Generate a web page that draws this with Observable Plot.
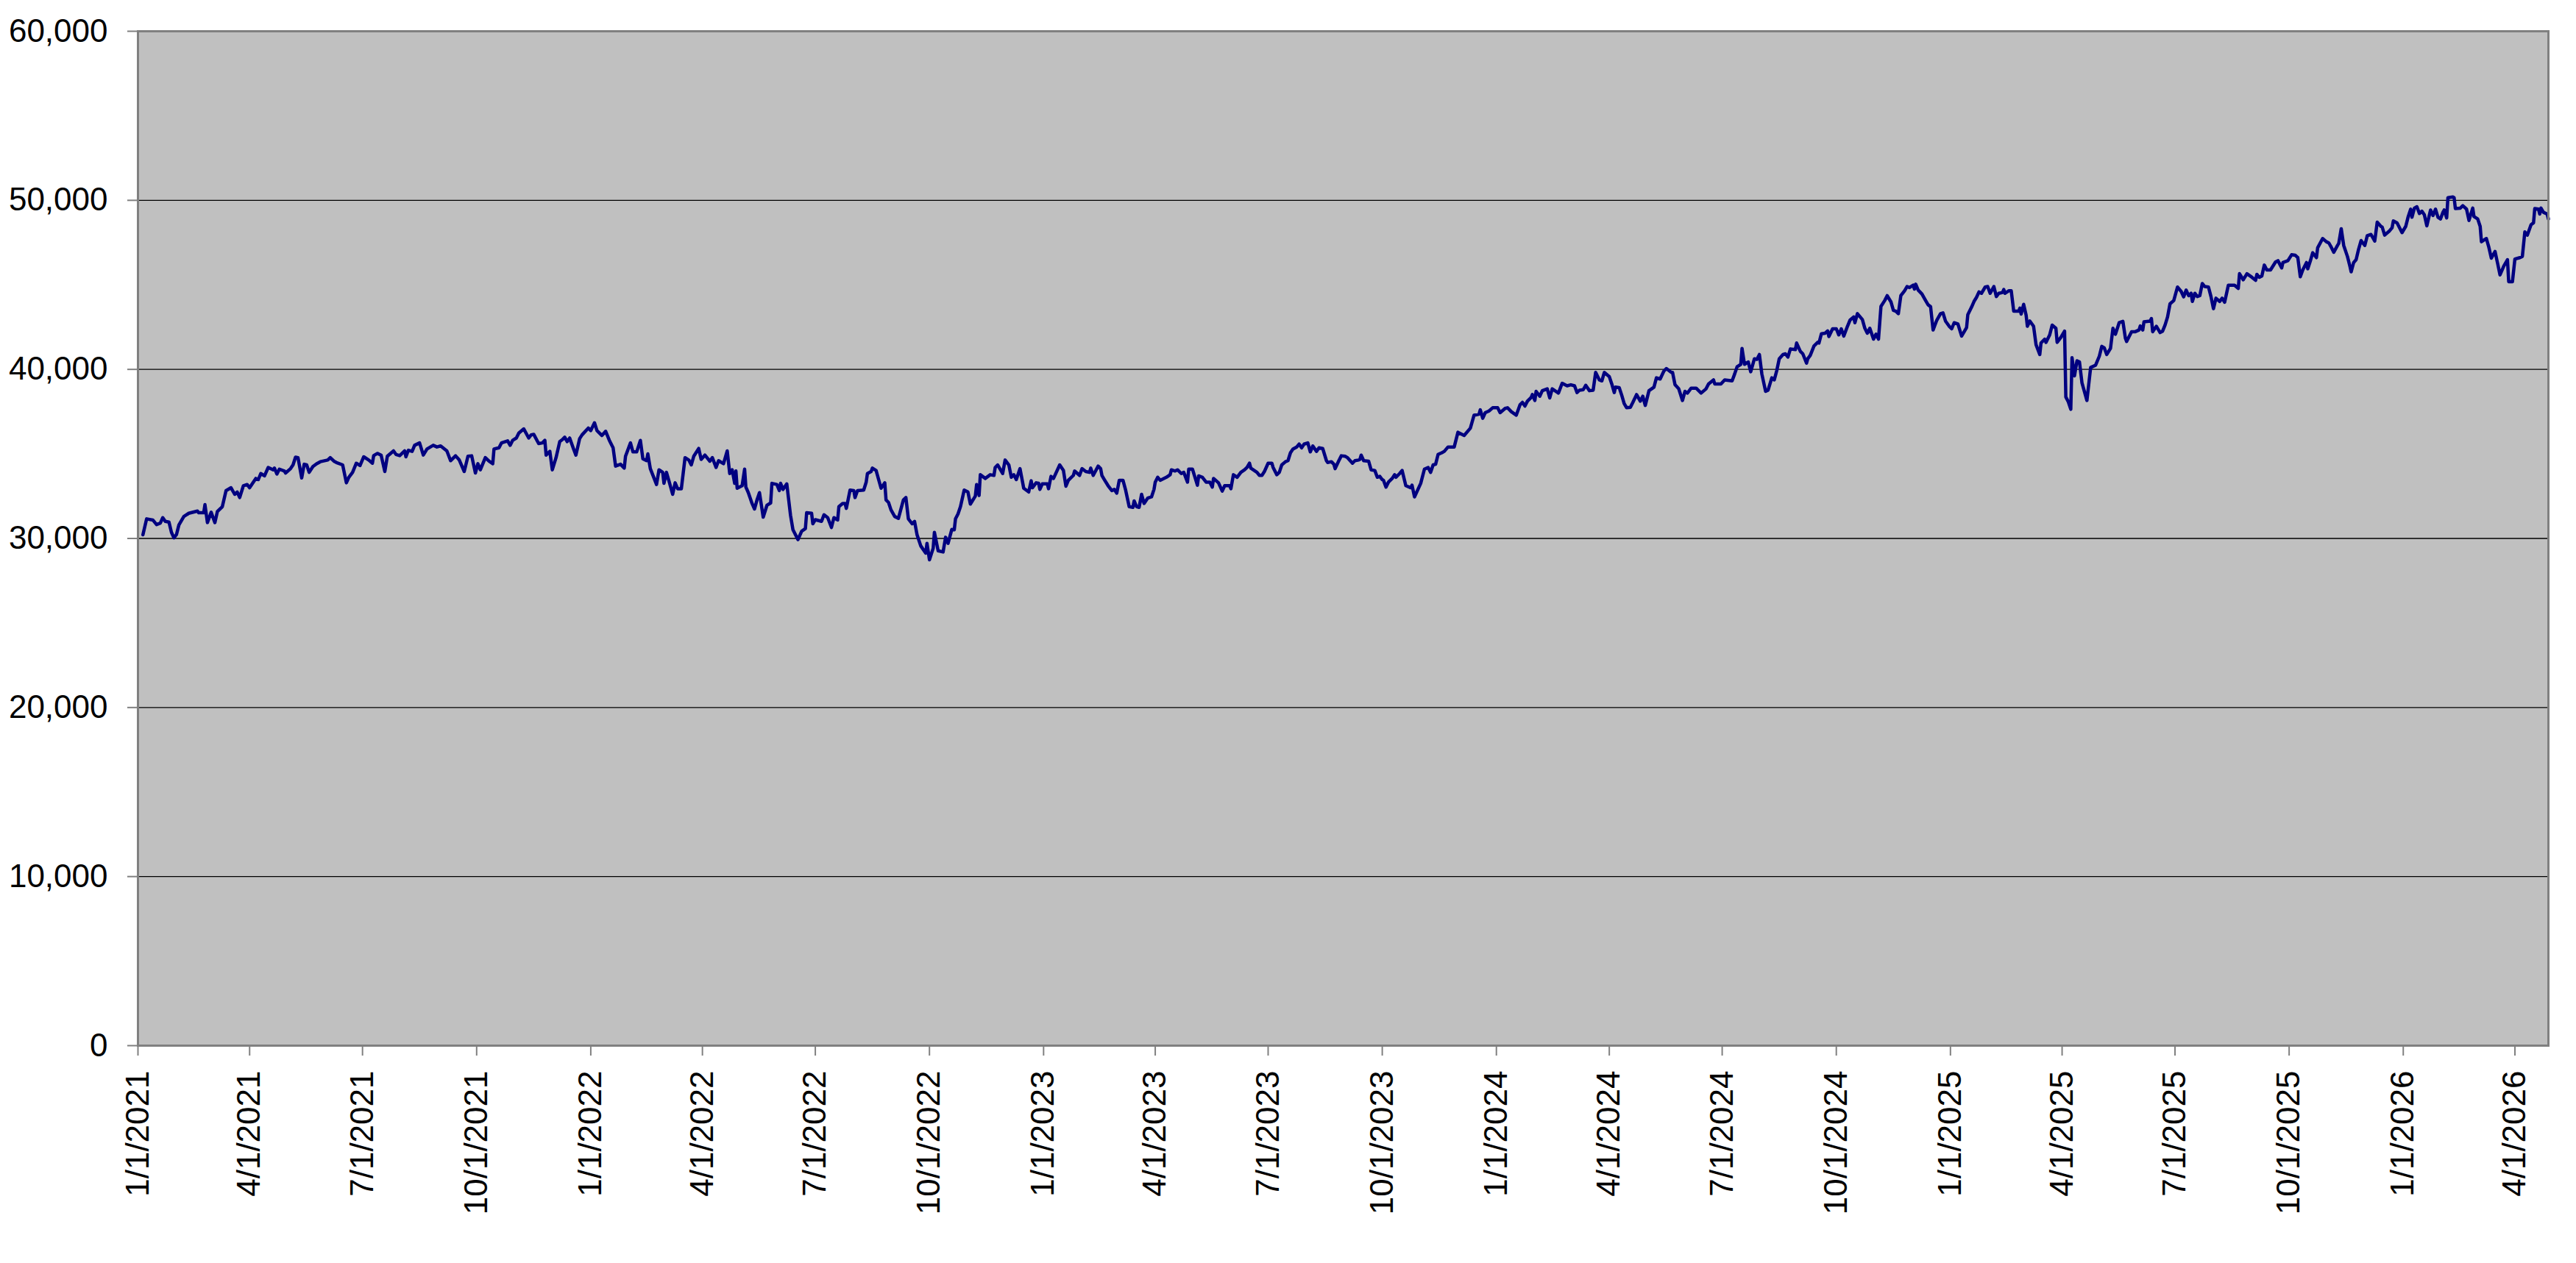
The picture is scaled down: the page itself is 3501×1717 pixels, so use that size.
<!DOCTYPE html>
<html>
<head>
<meta charset="utf-8">
<script src="https://cdn.jsdelivr.net/npm/d3@7"></script>
<script src="https://cdn.jsdelivr.net/npm/@observablehq/plot@0.6"></script>
<style>
  html, body { margin: 0; padding: 0; background: #ffffff; }
  #chart { width: 3501px; height: 1717px; }
</style>
</head>
<body>
<div id="chart"></div>
<script>
// Series: trading-day offsets from the start date, and index values
const startDate = "2021-01-01";
const endDate = "2026-04-28";

const dayOffsets = [
4,7,12,15,18,20,22,25,27,29,31,33,37,41,48,49,53,54,56,59,62,64,68,71,75,78,80,82,85,88,90,95,97,99,102,105,109,110,112,114,118,119,123,125,127,129,132,134,136,138,141,144,147,153,155,158,160,165,168,170,173,176,179,182,186,189,190,193,196,199,201,206,208,211,215,216,218,221,223,227,230,233,238,241,244,249,252,256,259,263,266,269,272,274,276,280,283,286,287,291,293,298,300,302,305,307,311,315,317,319,323,326,328,329,332,334,337,340,
342,344,346,348,351,353,356,358,363,365,368,370,374,377,380,383,385,389,392,393,397,399,402,405,407,410,411,413,418,420,423,424,426,428,431,433,435,438,441,444,446,448,452,454,457,461,463,466,468,472,475,477,479,481,482,483,487,489,490,492,495,497,499,501,504,507,510,511,515,517,518,520,523,526,528,532,535,538,539,543,544,546,551,553,556,559,561,564,565,568,570,571,574,577,578,580,585,587,588,591,592,595,599,602,603,605,607,610,613,617,619,621,624,626,628,631,635,636,638,641,642,645,649,651,653,656,658,659,661,663,666,669,671,675,676,678,679,683,
687,690,691,693,697,699,702,704,706,708,711,714,718,720,721,724,726,727,729,733,734,736,738,743,746,748,750,754,755,759,761,764,767,768,770,774,776,777,779,782,785,787,789,791,794,796,799,802,803,805,807,809,811,814,817,819,820,822,824,829,832,833,836,838,841,843,846,847,850,854,855,858,861,864,866,867,871,874,876,880,881,883,886,889,892,894,896,897,902,904,906,908,911,914,915,918,920,922,925,927,929,931,934,936,938,940,943,945,947,950,952,955,958,959,962,964,965,968,970,973,975,979,981,984,985,986,988,992,994,997,999,1001,1003,1004,1006,1008,1011,1013,1014,1017,1019,1022,1026,1027,
1029,1034,1037,1040,1042,1044,1046,1048,1051,1053,1056,1061,1064,1069,1074,1077,1081,1082,1084,1086,1089,1092,1096,1098,1102,1104,1107,1111,1114,1116,1118,1120,1123,1124,1126,1127,1130,1132,1136,1138,1140,1145,1148,1152,1155,1158,1160,1162,1165,1167,1170,1173,1175,1178,1180,1182,1186,1188,1190,1191,1194,1196,1198,1200,1203,1205,1208,1211,1213,1215,1218,1222,1224,1227,1230,1232,1236,1237,1239,1242,1245,1247,1249,1252,1256,1260,1264,1266,1270,1271,1276,1279,1285,1287,1289,1292,1293,1295,1298,1300,1303,1305,1307,1309,1312,1314,1317,1319,1321,1323,1326,1328,1330,1332,1336,1337,1340,1342,1345,1346,1348,1351,1354,1355,1357,
1360,1362,1363,1366,1369,1371,1373,1375,1378,1380,1383,1384,1386,1390,1392,1394,1396,1399,1401,1403,1405,1408,1410,1413,1415,1417,1419,1421,1424,1426,1428,1431,1432,1433,1435,1438,1441,1443,1445,1447,1450,1453,1455,1457,1460,1462,1464,1467,1470,1474,1475,1478,1480,1482,1484,1486,1489,1491,1493,1496,1498,1500,1503,1504,1505,1508,1510,1512,1516,1517,1518,1520,1522,1523,1525,1528,1530,1533,1534,1537,1538,1541,1543,1546,1547,1550,1553,1554,1556,1558,1559,1561,1563,1565,1567,1571,1574,1578,1581,1583,1585,1587,1590,1592,1594,1597,1600,1602,1603,1607,
1610,1613,1614,1616,1617,1622,1623,1624,1627,1630,1632,1634,1636,1638,1641,1644,1647,1649,1651,1653,1655,1656,1658,1660,1662,1664,1666,1669,1671,1673,1675,1678,1680,1682,1685,1690,1693,1694,1697,1700,1704,1707,1708,1710,1712,1714,1716,1719,1723,1725,1728,1729,1733,1736,1739,1741,1743,1745,1748,1749,1751,1753,1756,1757,1761,1764,1766,1768,1770,1773,1774,1776,1778,1781,1783,1784,1786,1788,1790,1792,1795,1797,1800,1803,1805,1808,1809,1811,1815,1817,1818,1821,1825,1828,1830,1832,1833,1835,1837,1839,1841,1843,1845,1848,1850,1852,1854,1856,1858,1859,1861,1862,1866,1867,1868,1872,1874,1877,1879,1882,1883,1886,1888,1889,1891,1893,1895,1897,1900,1902,1904,1907,1910,1911,1914,1916,1920,1922,1924,1926,1929,1931,1932,1935,1936,1937,1939,1942,1943
];

const values = [
30220,31160,31090,30820,30910,31230,31010,30970,30360,30040,30220,30800,31300,31490,31620,31520,31520,32000,30940,31550,30940,31590,31880,32830,33000,32610,32750,32420,33120,33190,33000,33550,33480,33840,33700,34200,34060,34160,33810,34100,33990,33870,34130,34350,34810,34780,33580,34390,34350,33910,34250,34420,34540,34640,34780,34570,34490,34350,33290,33620,33910,34450,34310,34830,34640,34450,34900,35030,34930,33960,34860,35180,34970,34900,35180,34830,35220,35150,35510,35650,34930,35290,35510,35410,35470,35180,34600,34890,34640,33960,34860,34890,33870,34420,34060,34780,34570,34420,35290,35360,35650,35770,35510,35800,35940,36230,36480,35940,36130,36160,35610,35650,35800,34930,35150,34060,34780,35730,
35840,35990,35730,35940,35320,34930,35900,36130,36530,36380,36840,36380,36090,36340,35800,35360,34280,34390,34160,34860,35650,35120,35120,35800,34710,34600,35000,34130,33190,34060,33910,33260,33910,33410,32610,33290,32940,32940,34780,34640,34350,34860,35320,34680,34930,34570,34780,34200,34600,34420,35180,33840,34060,33260,33990,32970,33120,34100,33040,32710,32070,31740,32280,32710,31260,31960,32100,33260,33190,32830,33260,32900,33230,31380,30510,29930,30430,30580,31520,31490,30870,31110,31010,31400,31230,30650,31230,31090,31880,32070,32070,31780,32860,32830,32420,32830,32860,33330,33840,33960,34160,34020,32970,33290,32280,32130,31690,31300,31190,32280,32420,31160,30870,31010,30220,29560,29130,29710,28740,29420,30360,29270,29200,30070,29710,30530,30510,31160,31450,31880,32860,32750,32030,32510,33190,32540,33770,33550,
33770,33730,34200,34350,33840,34640,34350,33620,33770,33480,34130,32970,32750,33410,33000,33290,33260,32900,33230,33230,32940,33670,33550,34350,34020,33090,33440,33730,33990,33730,34130,33960,33910,34160,33730,34280,34130,33730,33480,33120,32830,32900,32680,33440,33440,32900,31880,31840,32220,31880,31840,32610,32070,32390,32460,32900,33330,33620,33440,33620,33770,34060,33990,34060,33840,33910,33330,34100,34100,33150,33700,33620,33330,33330,33040,33550,33290,32800,33120,33120,32940,33770,33620,33910,34060,34200,34450,34160,33910,33730,33730,33960,34450,34450,34200,33770,33910,34350,34540,34600,35070,35290,35410,35580,35360,35580,35650,35120,35470,35150,35360,35320,34600,34490,34540,34390,34130,34600,34890,34860,34780,34450,34600,34640,34680,34930,34600,34570,34060,34020,33620,33670,33480,33440,33040,33330,33550,33770,33620,33840,34020,33120,33000,33150,
32460,33260,34100,34200,33910,34350,34390,34970,35070,35150,35410,35410,36280,36090,36520,37290,37350,37610,37110,37440,37540,37730,37730,37440,37690,37730,37500,37290,37900,38050,37830,38120,38340,38510,38160,38700,38410,38740,38850,38310,38850,38600,39180,39030,39090,39030,38630,38770,38800,39060,38740,38770,39820,39380,39320,39820,39570,39140,38630,38950,38920,38480,37980,37730,37760,38050,38510,38120,38410,37870,38740,38950,39500,39430,39900,40050,39820,39820,39090,38850,38160,38700,38600,38890,38890,38600,38850,39140,39380,39140,39140,39380,39320,39720,40150,40300,41240,40300,40440,39860,40630,40590,40880,39720,38700,38770,39500,39380,39930,40630,40880,40920,40730,41210,41170,41560,41070,40920,40370,40630,40830,41380,41600,41560,42110,
42140,42280,41940,42400,42400,42040,42400,41970,42550,42910,43100,42760,43300,42950,42430,42140,42430,41790,42080,41790,43730,44070,44360,44000,43490,43440,43300,44360,44650,44900,44840,44980,44750,45040,44690,44460,44070,43820,43710,42330,42910,43300,43340,42860,42550,42400,42760,42690,41970,42470,43240,43680,44020,44260,44580,44500,44870,44900,44500,44900,44310,44500,44550,44720,44500,44650,44650,43440,43440,43630,43270,43850,43200,42550,42860,42550,41460,40880,41560,41790,41600,42040,42620,42430,41600,41890,42260,38370,38080,37640,40690,39620,40510,40440,39210,38160,40110,40250,40780,41360,41270,40880,41240,42430,42080,42760,42840,41850,41650,42230,
42230,42330,42570,42330,42810,42860,43010,42230,42550,42180,42260,42620,43100,43880,44070,44870,44610,44290,44690,44360,44500,44020,44500,44310,44360,45080,44900,44870,44310,43590,44210,44020,44210,43970,44980,44980,44790,45660,45300,45660,45450,45270,45620,45450,45520,46170,45880,45880,46350,46430,46000,46320,46430,46780,46750,46610,45480,45880,46320,45950,46390,46900,46610,47190,47740,47550,47480,47220,46930,47330,47450,48320,47330,46680,46100,45770,46320,46490,47110,47620,47330,47910,47980,47590,48710,48460,48420,47940,48200,48380,48780,48670,48090,48460,49040,49480,49000,49540,49620,49220,49360,49140,48490,49430,49100,49480,49000,48900,49290,49430,48960,50160,50200,50160,49510,49540,49680,49480,48810,49540,49040,48900,48460,47550,47650,47740,47220,46580,46970,46290,45590,46100,46490,45190,45190,46530,46610,46680,48130,47940,48560,48670,49510,49480,49190,49540,49290,49190,48900
];

// Axis ticks
const yTicks = [0, 10000, 20000, 30000, 40000, 50000, 60000];
const gridValues = [10000, 20000, 30000, 40000, 50000];
const xTickDates = [
  "2021-01-01","2021-04-01","2021-07-01","2021-10-01",
  "2022-01-01","2022-04-01","2022-07-01","2022-10-01",
  "2023-01-01","2023-04-01","2023-07-01","2023-10-01",
  "2024-01-01","2024-04-01","2024-07-01","2024-10-01",
  "2025-01-01","2025-04-01","2025-07-01","2025-10-01",
  "2026-01-01","2026-04-01"
];

const start = new Date(startDate + "T00:00:00Z");
const data = dayOffsets.map((d, i) => ({
  date: d3.utcDay.offset(start, d),
  value: values[i]
}));
const xTicks = xTickDates.map(s => new Date(s + "T00:00:00Z"));
const fmtDate = d3.utcFormat("%-m/%-d/%Y");

const chart = Plot.plot({
  width: 3501,
  height: 1717,
  marginLeft: 187,
  marginRight: 38,
  marginTop: 42,
  marginBottom: 296,
  style: {
    fontFamily: "'Liberation Sans', Arial, sans-serif",
    fontSize: "44px",
    color: "black",
    background: "white"
  },
  x: {type: "utc", domain: [start, new Date(endDate + "T00:00:00Z")]},
  y: {domain: [0, 60000]},
  marks: [
    Plot.frame({fill: "#C0C0C0", stroke: null}),
    Plot.ruleY(gridValues, {stroke: "black", strokeWidth: 1.4}),
    Plot.line(data, {x: "date", y: "value", stroke: "#000080", strokeWidth: 4.5, strokeLinejoin: "round", strokeLinecap: "round"}),
    Plot.frame({stroke: "#808080", strokeWidth: 3}),
    Plot.axisY({
      ticks: yTicks, tickFormat: d3.format(","), tickSize: 14, tickPadding: 27,
      stroke: "#808080", strokeWidth: 2, fontSize: 44, label: null
    }),
    Plot.axisX({
      ticks: xTicks, tickFormat: fmtDate, tickRotate: -90, tickSize: 14, tickPadding: 20,
      stroke: "#808080", strokeWidth: 2, fontSize: 44, label: null
    })
  ]
});

document.getElementById("chart").appendChild(chart);
</script>
</body>
</html>
